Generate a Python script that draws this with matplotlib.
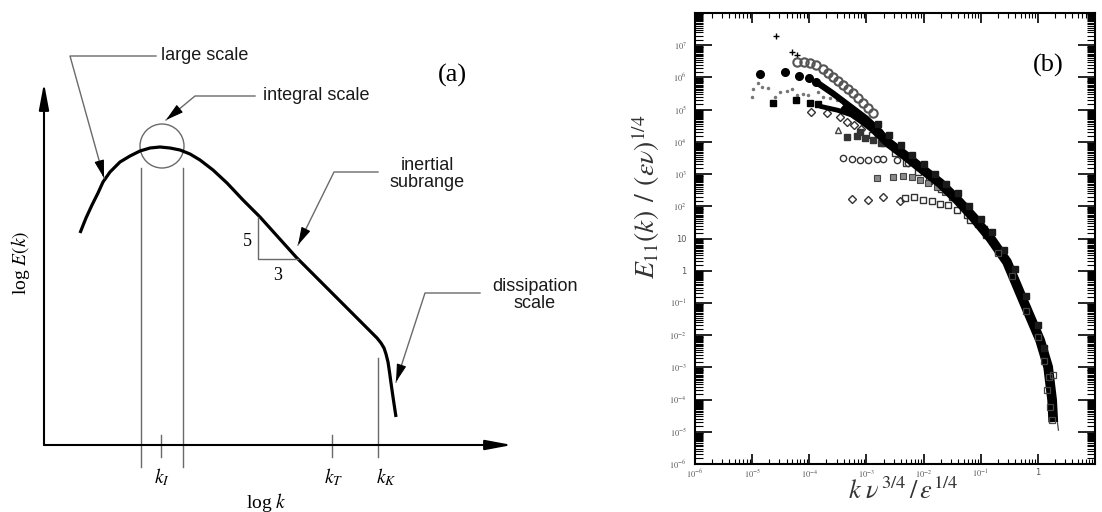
import numpy as np
import matplotlib.pyplot as plt
from matplotlib.patches import Circle
from matplotlib.ticker import LogLocator, FuncFormatter, NullFormatter

plt.rcParams['mathtext.fontset'] = 'stix'
SANS = 'Liberation Sans'
SERIF = 'Liberation Serif'

# ---------- (a) schematic spectrum (arbitrary log units) ----------
sketch_logk = [36, 42, 48, 54, 59, 66, 76, 86, 96, 106, 116, 126, 136, 146, 156, 169, 183,
               199, 216, 252, 295, 326, 333, 337, 340, 342, 344, 345.5, 347, 349, 352]
sketch_logE = [212, 227, 240, 252, 263, 273, 283, 289, 294, 297, 298, 297, 295, 291, 285, 275,
               262, 245, 228, 188, 145, 114, 107, 102, 97, 91, 83, 73, 62, 48, 28]
integral_edges = [97, 139]
k_marks = [117, 288, 334]
k_names = ['$k_I$', '$k_T$', '$k_K$']

# ---------- (b) measured spectra, log10 values ----------
plus_logk = [-4.58, -4.30, -4.21]
plus_logE = [7.29, 6.79, 6.70]
ocirc_hi_logk = [-4.21, -4.10, -3.99, -3.88, -3.76, -3.67, -3.58, -3.50, -3.41, -3.32, -3.23, -3.15, -3.06, -2.97, -2.88]
ocirc_hi_logE = [6.48, 6.48, 6.45, 6.38, 6.26, 6.14, 6.01, 5.89, 5.76, 5.64, 5.52, 5.36, 5.20, 5.05, 4.89]
fcirc_logk = [-4.86, -4.42, -4.18, -4.00, -3.88]
fcirc_logE = [6.11, 6.17, 6.04, 5.98, 5.86]
dots_logk = [-5.00, -4.98, -4.90, -4.83, -4.72, -4.60, -4.51, -4.39, -4.30, -4.21, -4.11, -4.02, -3.85, -3.76, -3.64, -3.51, -3.41]
dots_logE = [5.39, 5.64, 5.83, 5.70, 5.67, 5.39, 5.55, 5.58, 5.64, 5.45, 5.48, 5.45, 5.55, 5.39, 5.36, 5.30, 5.20]
fsq_logk = [-4.63, -4.23, -3.99, -3.85]
fsq_logE = [5.20, 5.30, 5.20, 5.17]
odiam_logk = [-3.97, -3.69, -3.46, -3.34, -3.22, -3.10]
odiam_logE = [4.93, 4.89, 4.77, 4.62, 4.52, 4.40]
tri_logk = [-3.50]
tri_logE = [4.37]
dsq_logk = [-3.34, -3.16, -3.11, -3.02, -2.88, -2.75]
dsq_logE = [4.15, 4.18, 4.30, 4.12, 4.06, 3.98]
ocirc_lo_logk = [-3.41, -3.25, -3.11, -2.97, -2.81, -2.71, -2.46, -2.27]
ocirc_lo_logE = [3.50, 3.47, 3.44, 3.44, 3.47, 3.47, 3.44, 3.34]
gsq_logk = [-2.81, -2.53, -2.36, -2.20, -2.06, -1.92, -1.76, -1.62]
gsq_logE = [2.88, 2.91, 2.94, 2.91, 2.81, 2.72, 2.60, 2.44]
diam_lo_logk = [-3.25, -2.97, -2.71, -2.41]
diam_lo_logE = [2.22, 2.19, 2.29, 2.16]
osq_lo_logk = [-2.32, -2.17, -2.01, -1.85, -1.71, -1.57, -1.41, -1.24, -1.18, -1.05, -0.95]
osq_lo_logE = [2.25, 2.29, 2.19, 2.16, 2.07, 2.04, 1.88, 1.73, 1.57, 1.45, 1.30]
upper_branch_logk = [-3.88, -3.60, -3.30, -3.00, -2.75]
upper_branch_logE = [5.86, 5.52, 5.12, 4.72, 4.30]
lower_branch_logk = [-3.80, -3.50, -3.20, -2.95]
lower_branch_logE = [5.10, 4.98, 4.80, 4.52]
band_logk = [-3.40, -3.20, -3.00, -2.88, -2.60, -2.29, -2.00, -1.71, -1.42, -1.13, -0.83, -0.54, -0.26, 0.04, 0.18, 0.25, 0.27]
band_logE = [5.15, 4.85, 4.60, 4.43, 3.95, 3.53, 3.12, 2.72, 2.22, 1.66, 1.01, 0.27, -0.91, -2.16, -2.99, -4.02, -4.70]
band_hi_logk = [-2.80, -2.60, -2.40, -2.20, -2.00, -1.80, -1.60, -1.40, -1.20, -1.00, -0.80, -0.60, -0.40, -0.20, 0.00, 0.10]
band_hi_logE = [4.55, 4.20, 3.90, 3.60, 3.30, 3.00, 2.70, 2.40, 2.00, 1.60, 1.20, 0.65, 0.05, -0.80, -1.70, -2.40]
band_lo_logk = [-2.90, -2.70, -2.50, -2.30, -2.10, -1.90, -1.70, -1.50, -1.30, -1.10, -0.90, -0.70]
band_lo_logE = [4.20, 3.95, 3.65, 3.35, 3.05, 2.80, 2.55, 2.30, 2.00, 1.60, 1.10, 0.60]
tail_sq_logk = [-0.70, -0.45, -0.20, 0.00, 0.10, 0.16, 0.22, 0.25, 0.20, 0.27]
tail_sq_logE = [0.55, -0.15, -1.25, -2.05, -2.80, -3.71, -4.24, -4.64, -3.30, -3.24]
model_logk = [0.04, 0.15, 0.25, 0.32, 0.36]
model_logE = [-2.16, -2.85, -3.70, -4.40, -4.95]

fig = plt.figure(figsize=(11.02, 5.12), dpi=100)

# ================= panel (a) =================
axa = fig.add_axes([0, 0, 560 / 1102, 1])
axa.set_xlim(-44, 516)
axa.set_ylim(-67, 445)
axa.axis('off')

axis_arrow = dict(arrowstyle='-|>,head_length=1.6,head_width=0.3', color='black', lw=1.5,
                  shrinkA=0, shrinkB=0)
axa.annotate('', xy=(0, 362), xytext=(0, 0), arrowprops=axis_arrow)
axa.annotate('', xy=(468, 0), xytext=(0, 0), arrowprops=axis_arrow)

axa.plot(sketch_logk, sketch_logE, color='black', lw=2.3, solid_capstyle='butt',
         solid_joinstyle='round')

gray = '#6a6a6a'
for xe in integral_edges:
    axa.plot([xe, xe], [277, -22], color=gray, lw=1)
axa.add_patch(Circle((118, 299), 22, fill=False, ec=gray, lw=1))
for xm in k_marks[:2]:
    axa.plot([xm, xm], [10, -12], color=gray, lw=1)
axa.plot([k_marks[2], k_marks[2]], [87, -12], color=gray, lw=1)
for xm, name in zip([118, 290, 342], k_names):
    axa.text(xm, -32, name, ha='center', va='center', fontsize=14)

# slope triangle
axa.plot([214, 214, 254], [228, 186, 186], color=gray, lw=1)
axa.text(203, 203, '5', ha='center', va='center', fontsize=13, family=SERIF)
axa.text(234, 170, '3', ha='center', va='center', fontsize=13, family=SERIF)

axa.text(222, -57, r'log $k$', ha='center', va='center', fontsize=14, family=SERIF)
axa.text(-24, 182, r'log $E(k)$', ha='center', va='center', fontsize=14, family=SERIF,
         rotation=90)
axa.text(408, 370, '(a)', ha='center', va='center', fontsize=19, family=SERIF)

leaders = [
    ('large scale', (161, 389), [(112, 389), (26, 389)], (60, 267)),
    ('integral scale', (272, 349), [(211, 349), (151, 349)], (122, 325)),
    ('inertial\nsubrange', (383, 271), [(334, 273), (290, 273)], (254, 200)),
    ('dissipation\nscale', (491, 150), [(436, 152), (381, 152)], (352, 63)),
]
for label, pos, path, tip in leaders:
    axa.text(pos[0], pos[1], label, ha='center', va='center', fontsize=13, family=SANS,
             color='#1a1a1a', linespacing=0.95)
    xs = [q[0] for q in path] + [tip[0]]
    ys = [q[1] for q in path] + [tip[1]]
    axa.plot(xs, ys, color=gray, lw=1)
    dx, dy = tip[0] - path[-1][0], tip[1] - path[-1][1]
    d = np.hypot(dx, dy)
    axa.annotate('', xy=tip, xytext=(tip[0] - 14 * dx / d, tip[1] - 14 * dy / d),
                 arrowprops=dict(arrowstyle='-|>,head_length=1.1,head_width=0.3',
                                 color='black', lw=0.8, shrinkA=0, shrinkB=0))

# ================= panel (b) =================
axb = fig.add_axes([695 / 1102, 48 / 512, 400 / 1102, 451 / 512])
axb.set_xscale('log')
axb.set_yscale('log')


def p(v):
    return np.power(10.0, np.array(v))


axb.plot(p(band_logk), p(band_logE), color='black', lw=7, solid_capstyle='butt', zorder=3)
axb.plot(p(upper_branch_logk), p(upper_branch_logE), color='black', lw=4.5,
         solid_capstyle='round', zorder=3)
axb.plot(p(lower_branch_logk), p(lower_branch_logE), color='black', lw=3.5,
         solid_capstyle='round', zorder=3)
axb.plot(p(model_logk), p(model_logE), color='#444444', lw=0.9, zorder=2)

axb.plot(p(band_hi_logk), p(band_hi_logE), 's', color='#1a1a1a', ms=4.5, zorder=3)
axb.plot(p(band_lo_logk), p(band_lo_logE), 's', mfc='none', mec='#333333', ms=4.5, mew=1)
axb.plot(p(plus_logk), p(plus_logE), '+', color='black', ms=5, mew=1)
axb.plot(p(ocirc_hi_logk), p(ocirc_hi_logE), 'o', mfc='none', mec='#555555', ms=6, mew=1.5)
axb.plot(p(fcirc_logk), p(fcirc_logE), 'o', color='black', ms=5.5)
axb.plot(p(dots_logk), p(dots_logE), '.', color='#777777', ms=3)
axb.plot(p(fsq_logk), p(fsq_logE), 's', color='black', ms=4.5)
axb.plot(p(odiam_logk), p(odiam_logE), 'D', mfc='none', mec='#333333', ms=4, mew=1)
axb.plot(p(tri_logk), p(tri_logE), '^', mfc='none', mec='#444444', ms=5, mew=1)
axb.plot(p(dsq_logk), p(dsq_logE), 's', color='#333333', ms=4)
axb.plot(p(ocirc_lo_logk), p(ocirc_lo_logE), 'o', mfc='none', mec='#333333', ms=4.5, mew=1)
axb.plot(p(gsq_logk), p(gsq_logE), 's', mfc='#8a8a8a', mec='#444444', ms=4, mew=0.8)
axb.plot(p(diam_lo_logk), p(diam_lo_logE), 'D', mfc='none', mec='#333333', ms=4, mew=1)
axb.plot(p(osq_lo_logk), p(osq_lo_logE), 's', mfc='none', mec='#333333', ms=4, mew=1)
axb.plot(p(tail_sq_logk), p(tail_sq_logE), 's', mfc='none', mec='#444444', ms=4, mew=0.9,
         zorder=4)

axb.set_xlim(1e-6, 1e1)
axb.set_ylim(1e-6, 1e8)


def ylab(v, pos):
    n = int(round(np.log10(v)))
    if n >= 8:
        return ''
    if n == 1:
        return '10'
    if n == 0:
        return '1'
    return '$10^{%d}$' % n


def xlab(v, pos):
    n = int(round(np.log10(v)))
    if n >= 1:
        return ''
    if n == 0:
        return '1'
    return '$10^{%d}$' % n


axb.xaxis.set_major_locator(LogLocator(base=10, numticks=20))
axb.yaxis.set_major_locator(LogLocator(base=10, numticks=20))
axb.xaxis.set_minor_locator(LogLocator(base=10, subs=np.arange(2, 10), numticks=100))
axb.yaxis.set_minor_locator(LogLocator(base=10, subs=np.arange(1.5, 10, 0.5), numticks=200))
axb.xaxis.set_major_formatter(FuncFormatter(xlab))
axb.yaxis.set_major_formatter(FuncFormatter(ylab))
axb.xaxis.set_minor_formatter(NullFormatter())
axb.yaxis.set_minor_formatter(NullFormatter())
axb.tick_params(which='both', direction='in', top=True, right=True, labelsize=6,
                labelcolor='#555555')
axb.tick_params(axis='y', which='major', length=12, width=1.2, pad=6)
axb.tick_params(axis='y', which='minor', length=6, width=0.8)
axb.tick_params(axis='x', which='major', length=7, width=1.2, pad=3)
axb.tick_params(axis='x', which='minor', length=3.5, width=0.8)
for s in axb.spines.values():
    s.set_linewidth(1.5)

fig.text(903 / 1102, 1 - 492 / 512, r'$k\;\nu^{\,3/4}\,/\,\varepsilon^{1/4}$', ha='center',
         va='center', fontsize=19, color='#333333')
fig.text(646 / 1102, 1 - 197 / 512, r'$E_{11}(k)\;\,/\;\,(\varepsilon\nu)^{1/4}$',
         ha='center', va='center', fontsize=20, rotation=90, color='#333333')
fig.text(1048 / 1102, 1 - 65 / 512, '(b)', ha='center', va='center', fontsize=19,
         family=SERIF)

fig.savefig('out.png', dpi=100)
